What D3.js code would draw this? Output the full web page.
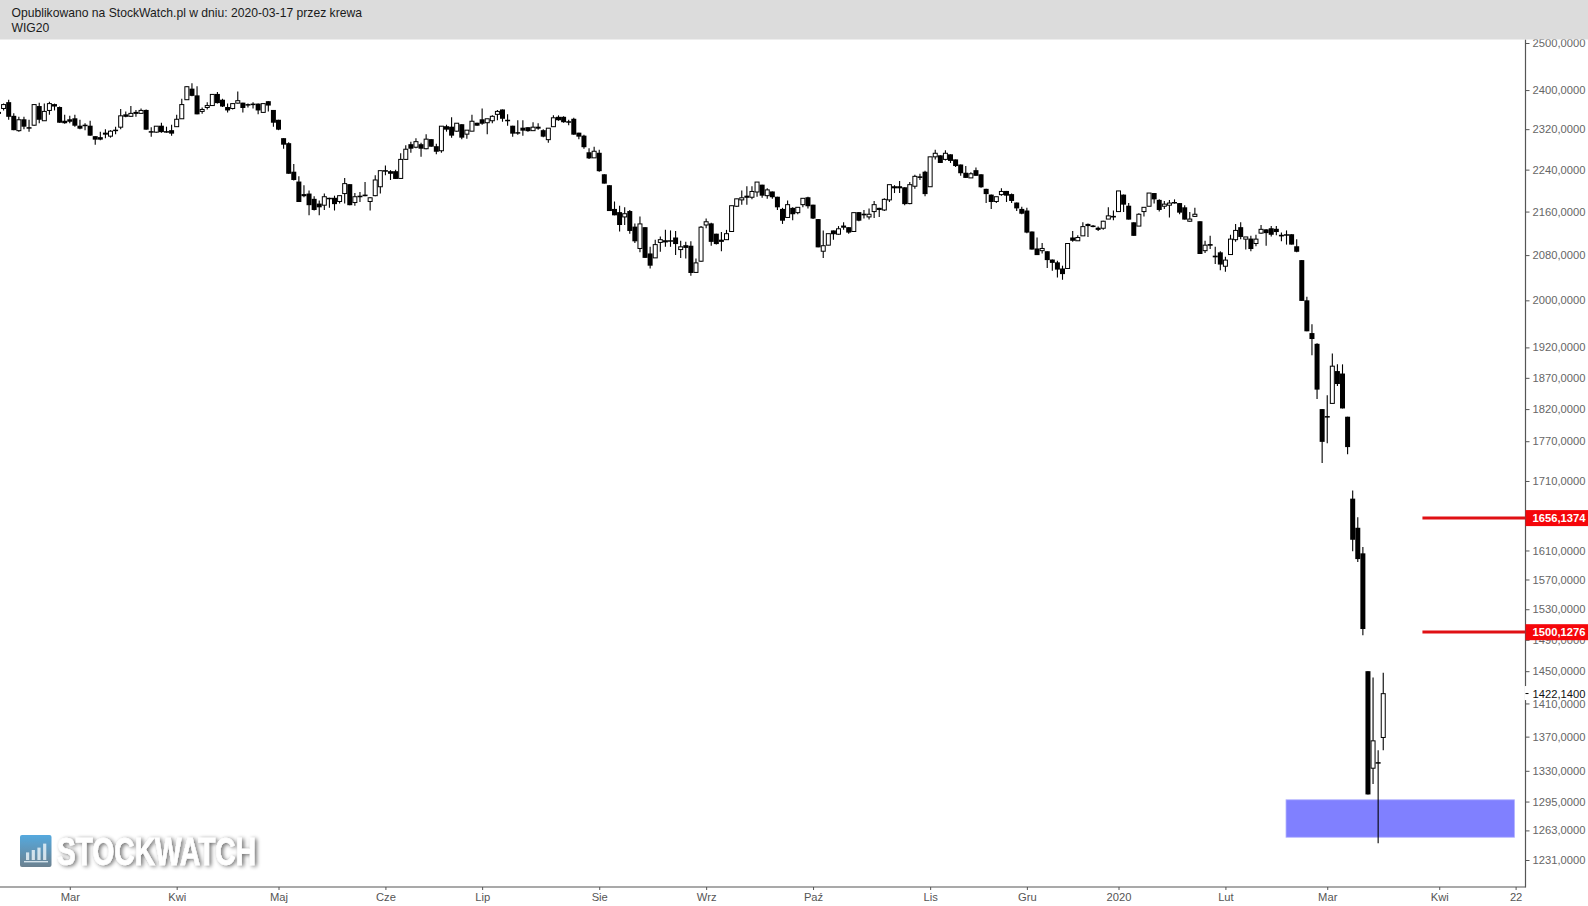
<!DOCTYPE html>
<html lang="pl">
<head>
<meta charset="utf-8">
<title>WIG20</title>
<script src="https://cdn.jsdelivr.net/npm/d3@7"></script>
<style>
html,body{margin:0;padding:0;background:#fff;overflow:hidden}
svg{display:block;font-family:"Liberation Sans",Arial,sans-serif}
</style>
</head>
<body>
<svg id="chart" width="1588" height="906"></svg>
<script>
const opens = [
2352,2362,2375,2347,2317,2340,2324,2328,2367,2337,
2358,2371,2365,2337,2340,2342,2327,2329,2327,2306,
2304,2313,2306,2319,2324,2350,2346,2352,2352,2359,
2316,2314,2327,2316,2318,2325,2341,2380,2403,2389,
2356,2364,2368,2392,2380,2365,2362,2373,2374,2371,
2372,2372,2354,2377,2359,2339,2302,2292,2236,2217,
2193,2194,2184,2175,2172,2186,2186,2179,2194,2212,
2177,2190,2192,2179,2190,2207,2239,2237,2237,2223,
2260,2290,2284,2290,2281,2300,2286,2277,2326,2325,
2316,2330,2310,2316,2333,2340,2333,2337,2350,2360,
2339,2327,2314,2323,2324,2317,2325,2318,2299,2325,
2345,2345,2336,2341,2313,2307,2274,2263,2273,2231,
2210,2165,2159,2150,2161,2132,2092,2131,2083,2075,
2103,2107,2107,2112,2090,2098,2097,2049,2069,2135,
2138,2119,2108,2108,2123,2170,2182,2190,2187,2197,
2211,2190,2198,2188,2165,2149,2167,2158,2173,2187,
2173,2146,2087,2098,2125,2118,2134,2131,2123,2159,
2156,2150,2160,2167,2163,2182,2208,2208,2206,2175,
2208,2227,2236,2207,2265,2268,2260,2270,2260,2250,
2234,2224,2239,2231,2203,2192,2179,2192,2199,2193,
2177,2165,2162,2123,2092,2088,2087,2072,2067,2056,
2056,2112,2106,2115,2137,2134,2130,2129,2146,2152,
2160,2192,2171,2140,2133,2160,2170,2195,2182,2170,
2172,2178,2176,2168,2142,2151,2142,2088,2100,2079,
2085,2060,2081,2108,2131,2109,2110,2101,2120,2127,
2129,2128,2117,2118,2118,2096,2071,2000,1944,1926,
1820,1809,1829,1881,1877,1808,1684,1642,1606,1450,
1333,1340,1369];
const highs = [
2358,2372,2380,2352,2345,2345,2339,2370,2374,2372,
2376,2372,2366,2349,2347,2349,2339,2332,2337,2306,
2315,2320,2318,2325,2361,2356,2367,2359,2362,2360,
2324,2326,2333,2325,2329,2349,2382,2408,2414,2408,
2364,2375,2391,2396,2382,2372,2372,2397,2374,2372,
2375,2372,2372,2377,2359,2339,2302,2294,2251,2227,
2210,2200,2189,2181,2194,2186,2190,2190,2224,2212,
2195,2197,2216,2187,2229,2238,2248,2239,2240,2272,
2288,2295,2302,2293,2310,2300,2291,2326,2329,2344,
2332,2330,2318,2349,2333,2362,2341,2348,2359,2360,
2350,2327,2338,2338,2324,2334,2332,2320,2322,2348,
2348,2346,2339,2343,2313,2309,2282,2285,2279,2231,
2210,2179,2171,2168,2163,2138,2151,2131,2095,2108,
2114,2126,2125,2124,2106,2104,2105,2074,2133,2147,
2139,2119,2122,2126,2171,2184,2200,2208,2208,2216,
2211,2204,2198,2188,2167,2181,2168,2168,2185,2188,
2173,2146,2125,2119,2125,2133,2140,2131,2158,2159,
2163,2166,2180,2167,2185,2211,2210,2218,2206,2216,
2230,2232,2238,2265,2279,2268,2278,2270,2260,2250,
2247,2235,2244,2231,2203,2192,2188,2204,2199,2194,
2177,2169,2167,2123,2112,2102,2087,2072,2070,2061,
2101,2124,2116,2140,2138,2135,2132,2143,2168,2162,
2199,2192,2176,2140,2157,2168,2195,2195,2183,2180,
2182,2183,2176,2172,2159,2167,2142,2106,2115,2095,
2087,2077,2117,2137,2140,2113,2115,2117,2135,2127,
2133,2133,2121,2125,2118,2109,2071,2006,1959,1927,
1820,1842,1910,1892,1892,1808,1696,1657,1615,1450,
1442,1354,1448];
const lows = [
2350,2358,2339,2318,2315,2320,2315,2327,2332,2337,
2349,2358,2333,2331,2332,2325,2320,2318,2307,2289,
2298,2302,2303,2310,2320,2344,2345,2345,2351,2319,
2305,2313,2313,2313,2307,2325,2341,2380,2387,2350,
2351,2360,2367,2372,2365,2354,2360,2372,2354,2364,
2362,2350,2354,2356,2325,2318,2281,2232,2219,2178,
2187,2153,2162,2153,2163,2167,2162,2175,2175,2172,
2171,2178,2189,2162,2189,2194,2229,2220,2222,2222,
2260,2273,2282,2265,2280,2285,2270,2273,2315,2303,
2315,2300,2301,2316,2327,2329,2310,2332,2338,2335,
2327,2305,2309,2307,2315,2317,2319,2304,2293,2325,
2337,2333,2328,2309,2300,2281,2261,2263,2236,2213,
2161,2153,2123,2135,2119,2102,2085,2075,2056,2075,
2086,2095,2095,2080,2075,2074,2043,2048,2068,2129,
2097,2099,2087,2108,2123,2169,2173,2173,2183,2188,
2186,2184,2184,2163,2137,2149,2144,2155,2168,2166,
2146,2094,2075,2098,2108,2117,2126,2119,2123,2142,
2147,2145,2148,2150,2161,2178,2195,2195,2172,2174,
2203,2220,2189,2207,2260,2253,2258,2253,2245,2228,
2224,2224,2228,2205,2176,2165,2176,2190,2178,2176,
2161,2155,2120,2090,2080,2083,2057,2052,2040,2036,
2056,2104,2106,2115,2113,2131,2124,2126,2146,2144,
2160,2159,2145,2115,2133,2151,2170,2175,2160,2165,
2149,2175,2155,2145,2141,2150,2082,2084,2091,2064,
2053,2050,2081,2104,2109,2090,2087,2096,2119,2097,
2114,2116,2105,2099,2099,2085,1999,1947,1907,1836,
1737,1767,1829,1857,1821,1750,1609,1594,1496,1303,
1315,1249,1354];
const closes = [
2354,2370,2345,2318,2339,2325,2321,2370,2339,2356,
2372,2366,2333,2332,2335,2327,2321,2326,2307,2299,
2299,2309,2316,2318,2347,2345,2352,2354,2358,2319,
2314,2326,2314,2314,2311,2340,2370,2407,2388,2350,
2360,2368,2391,2373,2366,2358,2372,2378,2363,2368,
2370,2358,2372,2368,2333,2319,2289,2232,2220,2178,
2189,2172,2163,2168,2188,2184,2174,2190,2213,2172,
2188,2187,2189,2186,2220,2238,2236,2232,2222,2260,
2280,2281,2295,2281,2300,2285,2275,2326,2319,2307,
2332,2303,2318,2336,2327,2331,2341,2346,2356,2341,
2336,2311,2312,2317,2316,2324,2321,2305,2322,2343,
2338,2334,2334,2309,2305,2284,2262,2276,2237,2213,
2161,2153,2135,2156,2124,2105,2137,2075,2061,2099,
2108,2103,2105,2100,2095,2093,2048,2066,2131,2141,
2104,2100,2104,2119,2171,2184,2186,2186,2198,2216,
2190,2201,2187,2168,2143,2173,2155,2168,2185,2170,
2147,2094,2097,2119,2118,2128,2130,2121,2158,2143,
2153,2155,2173,2163,2183,2211,2204,2204,2174,2211,
2227,2224,2193,2265,2272,2253,2272,2257,2247,2233,
2224,2232,2228,2206,2193,2178,2188,2198,2190,2180,
2166,2156,2121,2090,2080,2092,2071,2066,2054,2046,
2101,2106,2112,2132,2133,2132,2126,2142,2152,2149,
2199,2173,2145,2115,2155,2168,2195,2183,2163,2174,
2176,2176,2158,2145,2146,2155,2082,2098,2097,2076,
2063,2071,2109,2125,2113,2113,2091,2109,2127,2120,
2117,2122,2114,2116,2099,2086,1999,1947,1934,1851,
1769,1808,1889,1860,1821,1761,1625,1598,1504,1303,
1365,1339,1422];

const priceTicks = [2500,2400,2320,2240,2160,2080,2000,1920,1870,1820,1770,1710,1610,1570,1530,1490,1450,1410,1370,1330,1295,1263,1231];
const dateTickBars = [14,35,55,76,95,118,139,160,183,202,220,241,261,283,298];
const dateTickLabels = ["Mar","Kwi","Maj","Cze","Lip","Sie","Wrz","Paź","Lis","Gru","2020","Lut","Mar","Kwi","22"];
const resistanceLevels = [1656.1374,1500.1276];
const resistanceStartBar = 279.7;
const supportZone = {low:1255.5, high:1297, startBar:252.9, endBar:297.8};
const lastPrice = 1422.14;
const headerLines = ["Opublikowano na StockWatch.pl w dniu: 2020-03-17 przez krewa","WIG20"];

const W = 1588, H = 906, axisX = 1525.5, axisY = 887, headerH = 39.5;
const svg = d3.select("#chart");
const fmt = d => d.toFixed(4).replace(".", ",");

const x = d3.scaleLinear().domain([0,298]).range([-1.5,1515.6]);
const y = d3.scaleLog().domain([1231,2500]).range([860,43]);

const defs = svg.append("defs");
const sh = defs.append("filter").attr("id","logoShadow").attr("x","-10%").attr("y","-30%").attr("width","120%").attr("height","160%");
sh.append("feGaussianBlur").attr("in","SourceAlpha").attr("stdDeviation",2.2).attr("result","b");
sh.append("feOffset").attr("in","b").attr("dx",1.5).attr("dy",1).attr("result","o");
sh.append("feComponentTransfer").attr("in","o").attr("result","s").append("feFuncA").attr("type","linear").attr("slope",0.6);
const m = sh.append("feMerge"); m.append("feMergeNode").attr("in","s"); m.append("feMergeNode").attr("in","SourceGraphic");
const ig = defs.append("linearGradient").attr("id","logoGrad").attr("x1",0).attr("x2",0).attr("y1",0).attr("y2",1);
ig.append("stop").attr("offset","0").attr("stop-color","#55a9de");
ig.append("stop").attr("offset","1").attr("stop-color","#6b8190");
const ib = defs.append("filter").attr("id","iconBlur").attr("x","-10%").attr("y","-10%").attr("width","120%").attr("height","120%");
ib.append("feGaussianBlur").attr("stdDeviation",0.6);

// watermark
const logoBars = [0.38,0.5,0.62,0.82];
const logo = svg.append("g");
logo.append("rect").attr("x",20).attr("y",835).attr("width",31.5).attr("height",32).attr("rx",2)
  .attr("fill","url(#logoGrad)").attr("filter","url(#iconBlur)");
logo.selectAll("rect.b").data(logoBars).join("rect").attr("class","b")
  .attr("x",(d,i)=>26+i*5.7).attr("width",3.2)
  .attr("y",d=>860-20*d).attr("height",d=>20*d).attr("fill","#e6f1f7").attr("opacity",0.85);
logo.append("rect").attr("x",24).attr("y",861).attr("width",24).attr("height",1.4).attr("fill","#e6f1f7").attr("opacity",0.85);
logo.append("text").attr("x",57).attr("y",864.5).attr("textLength",199).attr("lengthAdjust","spacingAndGlyphs")
  .attr("font-family","'Liberation Sans',sans-serif").attr("font-weight",700).attr("font-size",38)
  .attr("fill","#fff").attr("stroke","#fff").attr("stroke-width",0.5).attr("filter","url(#logoShadow)").text("STOCKWATCH");

// support zone
svg.append("rect")
  .attr("x",x(supportZone.startBar)).attr("width",x(supportZone.endBar)-x(supportZone.startBar))
  .attr("y",y(supportZone.high)).attr("height",y(supportZone.low)-y(supportZone.high))
  .attr("fill","#8080ff").attr("stroke","#b5b5ff").attr("stroke-width",0.8);

// candles
const bars = opens.map((o,i)=>({i,o,h:highs[i],l:lows[i],c:closes[i]}));
const cg = svg.append("g").selectAll("g").data(bars).join("g");
cg.append("line")
  .attr("x1",d=>x(d.i)).attr("x2",d=>x(d.i))
  .attr("y1",d=>y(d.h)).attr("y2",d=>y(d.l))
  .attr("stroke","#000").attr("stroke-width",1.1);
cg.append("rect")
  .attr("x",d=>x(d.i)-(d.c<d.o?2.5:2))
  .attr("width",d=>d.c<d.o?5:4)
  .attr("y",d=>y(Math.max(d.o,d.c)))
  .attr("height",d=>Math.max(d.c<d.o?1.5:1,Math.abs(y(d.o)-y(d.c))))
  .attr("fill",d=>d.c<d.o?"#000":"#fff")
  .attr("stroke",d=>d.c<d.o?"none":"#000")
  .attr("stroke-width",1);

// resistance lines
svg.append("g").selectAll("line").data(resistanceLevels).join("line")
  .attr("x1",x(resistanceStartBar)).attr("x2",axisX)
  .attr("y1",d=>y(d)).attr("y2",d=>y(d))
  .attr("stroke","#e01014").attr("stroke-width",3);

// axes
const yAxis = d3.axisRight(y).tickValues(priceTicks).tickFormat(fmt).tickSize(4).tickPadding(3);
const yG = svg.append("g").attr("transform",`translate(${axisX},0)`).call(yAxis);
yG.select(".domain").remove();
yG.selectAll(".tick line").attr("stroke","#555");
yG.selectAll("text").attr("fill","#666").attr("font-size",11.2).attr("font-family","'Liberation Sans',Arial,sans-serif");
svg.append("line").attr("x1",axisX).attr("x2",axisX).attr("y1",headerH).attr("y2",axisY+0.5).attr("stroke","#555").attr("stroke-width",1.2);

const xAxis = d3.axisBottom(x).tickValues(dateTickBars).tickFormat((d,i)=>dateTickLabels[i]).tickSize(3).tickPadding(3);
const xG = svg.append("g").attr("transform",`translate(0,${axisY})`).call(xAxis);
xG.select(".domain").remove();
xG.selectAll(".tick line").attr("stroke","#555");
xG.selectAll("text").attr("fill","#555").attr("font-size",11.2).attr("font-family","'Liberation Sans',Arial,sans-serif");
svg.append("line").attr("x1",0).attr("x2",axisX).attr("y1",axisY).attr("y2",axisY).attr("stroke","#555").attr("stroke-width",1.2);

// red level tags
const tags = svg.append("g").selectAll("g").data(resistanceLevels).join("g");
tags.append("rect").attr("x",axisX).attr("width",W-axisX).attr("y",d=>y(d)-7.8).attr("height",16).attr("fill","#f5060a");
tags.append("text").attr("x",1532.5).attr("y",d=>y(d)+4.4).attr("fill","#fff").attr("font-weight",700).attr("font-size",11.2).text(fmt);

// last price tag
svg.append("rect").attr("x",axisX-1).attr("width",W-axisX+1).attr("y",y(lastPrice)-7.5).attr("height",14).attr("fill","#fff");
svg.append("line").attr("x1",axisX).attr("x2",axisX+3).attr("y1",y(lastPrice)).attr("y2",y(lastPrice)).attr("stroke","#000");
svg.append("text").attr("x",1532.5).attr("y",y(lastPrice)+4.6).attr("fill","#111").attr("font-size",11.2).text(fmt(lastPrice));

// header
svg.append("rect").attr("width",W).attr("height",headerH).attr("fill","#dcdcdc");
svg.append("g").selectAll("text").data(headerLines).join("text")
  .attr("x",11.5).attr("y",(d,i)=>17+i*15).attr("fill","#1a1a1a").attr("font-size",12.15).text(d=>d);
</script>
</body>
</html>
